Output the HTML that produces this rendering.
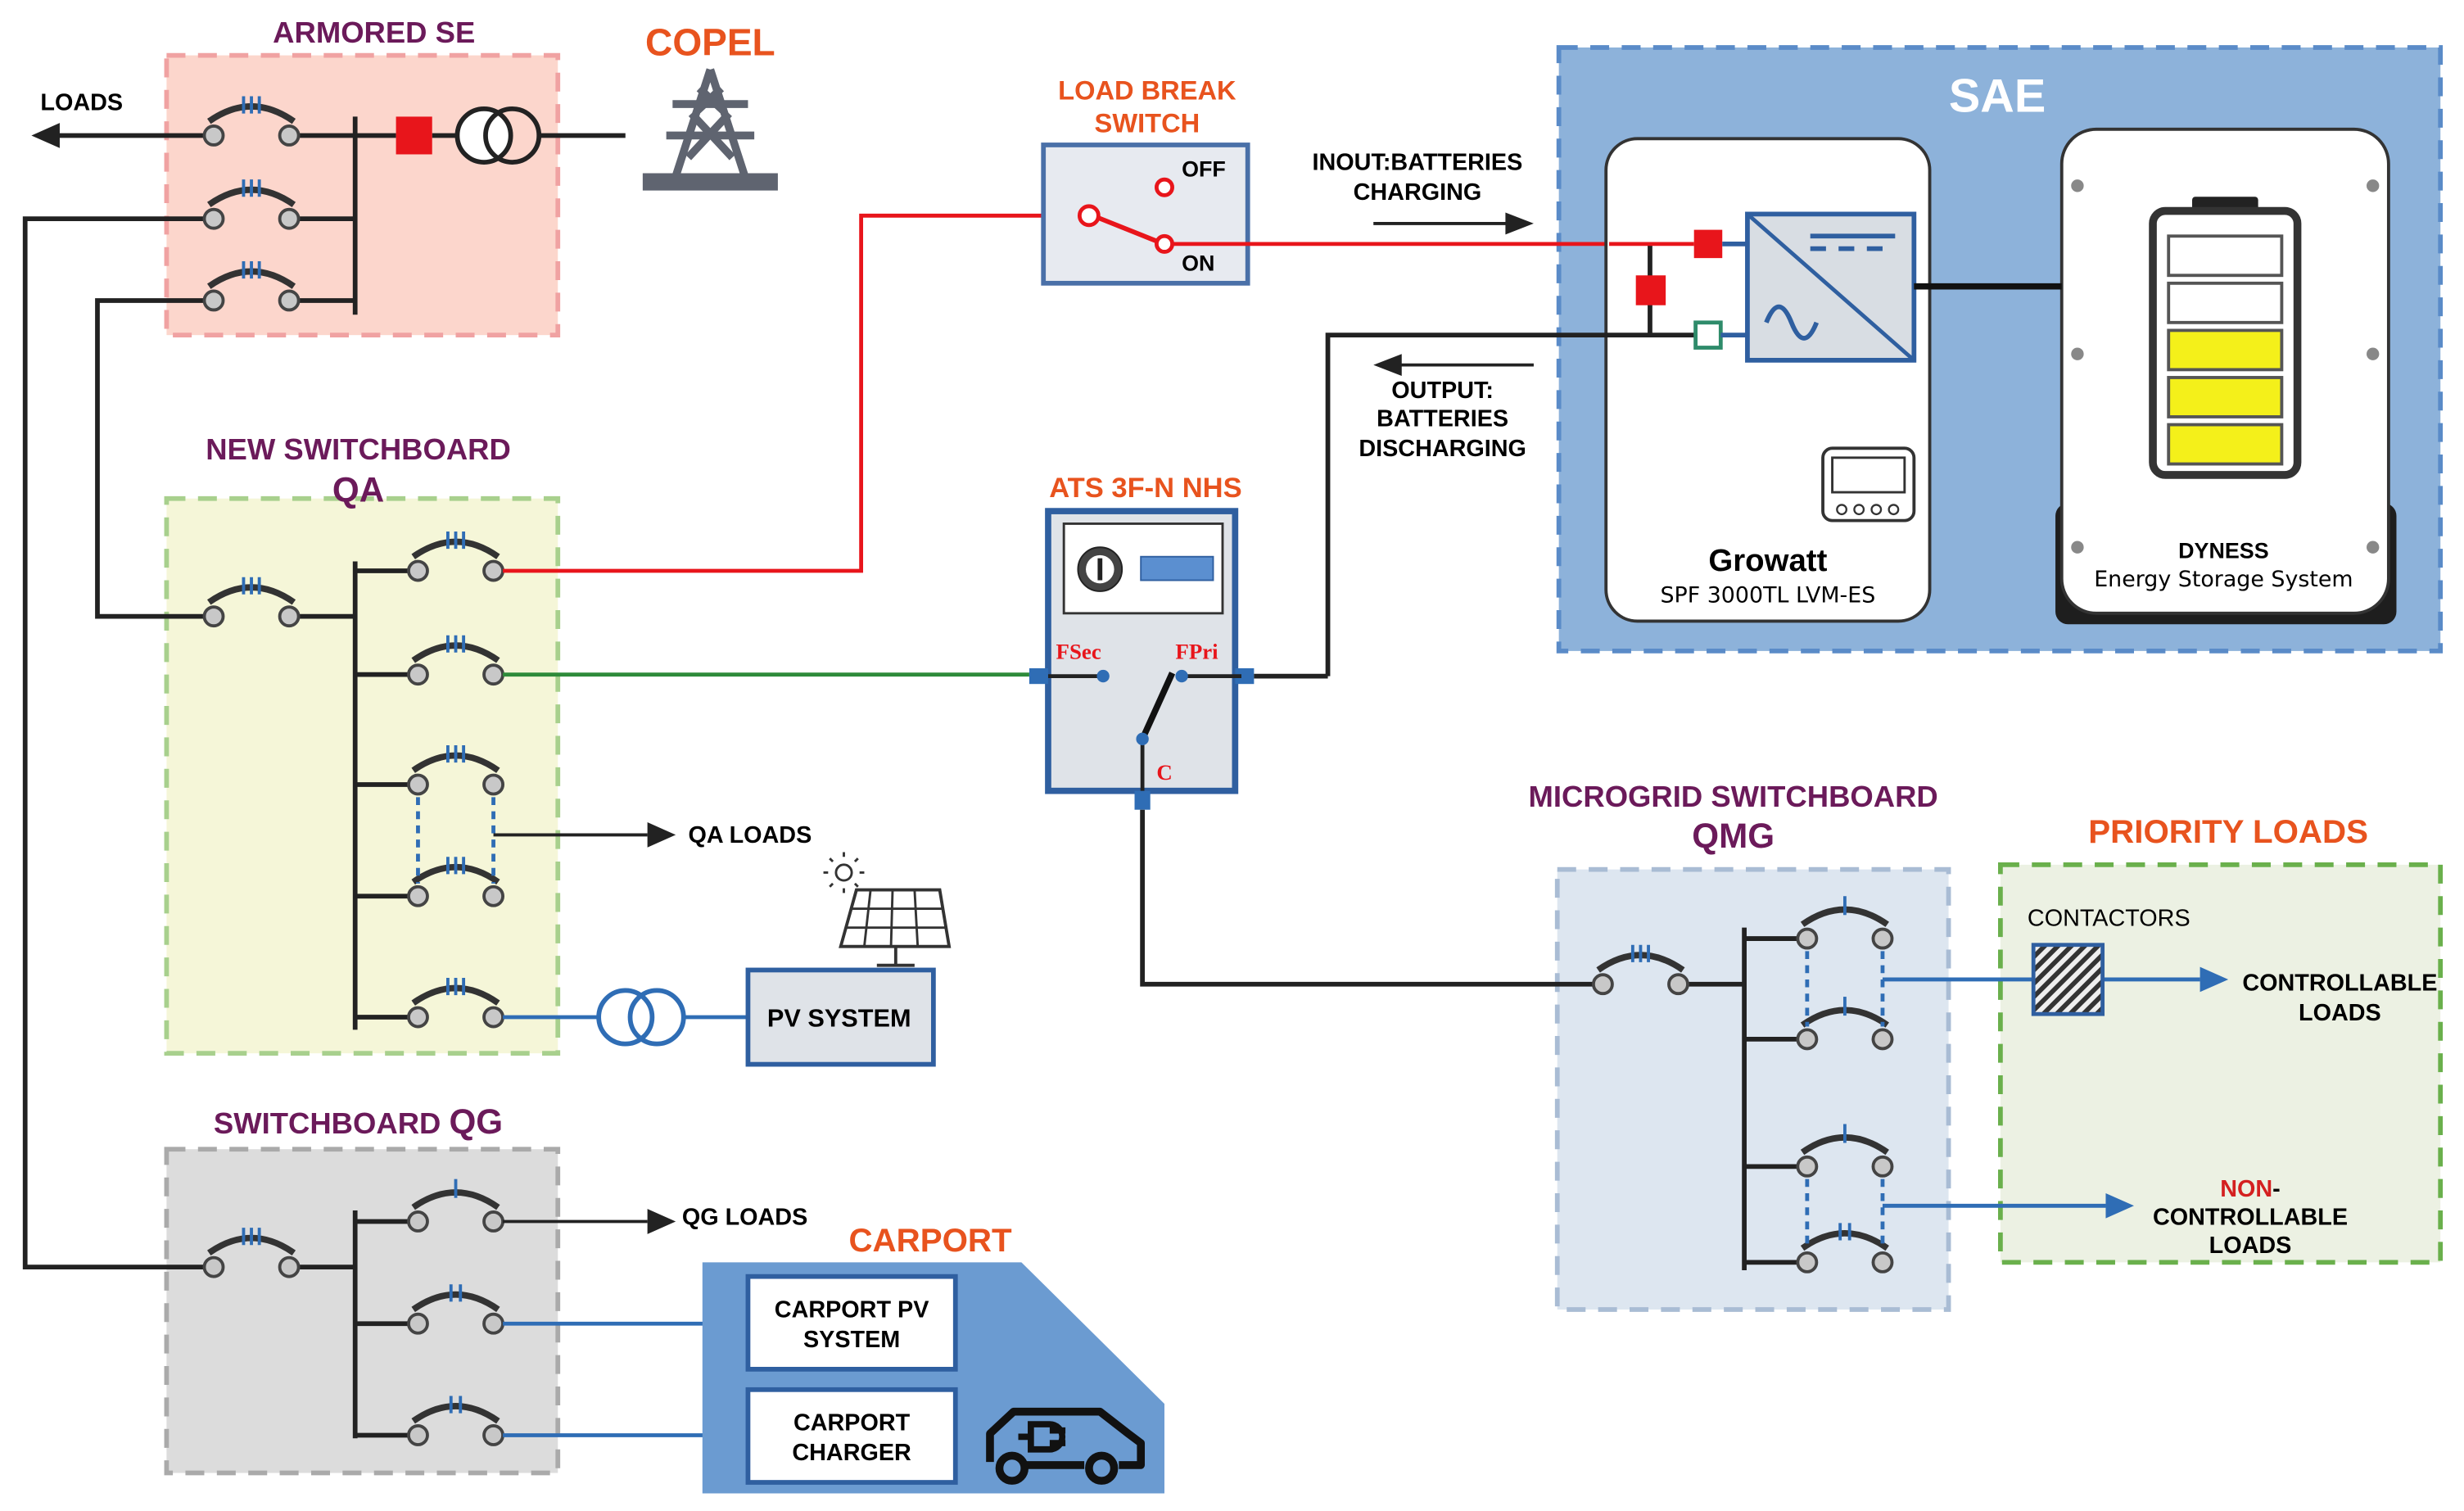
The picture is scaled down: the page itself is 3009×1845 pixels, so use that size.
<!DOCTYPE html>
<html><head><meta charset="utf-8"><style>html,body{margin:0;padding:0;background:#fff}svg{display:block}text{font-family:"Liberation Sans",sans-serif;font-weight:bold}</style></head><body>
<svg width="3009" height="1845" viewBox="0 0 1568 961" xmlns="http://www.w3.org/2000/svg">
<defs>
<g id="b3"><path d="M-3,-9 Q24,-28 51,-9" fill="none" stroke="#333" stroke-width="4"/><path d="M19,-25v11M24,-25v11M29,-25v11" stroke="#2f6db5" stroke-width="2"/><circle cx="0" cy="0" r="6" fill="#c8c8c8" stroke="#444" stroke-width="2"/><circle cx="48" cy="0" r="6" fill="#c8c8c8" stroke="#444" stroke-width="2"/></g>
<g id="b2"><path d="M-3,-9 Q24,-28 51,-9" fill="none" stroke="#333" stroke-width="4"/><path d="M21,-25v11M27,-25v11" stroke="#2f6db5" stroke-width="2"/><circle cx="0" cy="0" r="6" fill="#c8c8c8" stroke="#444" stroke-width="2"/><circle cx="48" cy="0" r="6" fill="#c8c8c8" stroke="#444" stroke-width="2"/></g>
<g id="b1"><path d="M-3,-9 Q24,-28 51,-9" fill="none" stroke="#333" stroke-width="4"/><path d="M24,-27v12" stroke="#2f6db5" stroke-width="2"/><circle cx="0" cy="0" r="6" fill="#c8c8c8" stroke="#444" stroke-width="2"/><circle cx="48" cy="0" r="6" fill="#c8c8c8" stroke="#444" stroke-width="2"/></g>
<pattern id="hatch" width="6" height="6" patternUnits="userSpaceOnUse" patternTransform="rotate(45)"><rect width="6" height="6" fill="#eee"/><rect width="3" height="6" fill="#333"/></pattern>
</defs>

<!-- boxes -->
<rect x="106" y="35" width="249" height="178" fill="#fcd6cc" stroke="#f0a2a2" stroke-width="3" stroke-dasharray="12,8"/>
<rect x="106" y="317" width="249" height="353" fill="#f5f6d8" stroke="#a8d08d" stroke-width="3" stroke-dasharray="12,8"/>
<rect x="106" y="731" width="249" height="206" fill="#dcdcdc" stroke="#aaa" stroke-width="3" stroke-dasharray="12,8"/>
<rect x="991" y="553" width="249" height="280" fill="#dde6f0" stroke="#a9bcd4" stroke-width="3" stroke-dasharray="12,8"/>
<rect x="1273" y="550" width="280" height="253" fill="#ecf1e3" stroke="#6ab04c" stroke-width="3" stroke-dasharray="12,8"/>
<rect x="992" y="30" width="561" height="384" fill="#8db2da" stroke="#5a8bc8" stroke-width="3" stroke-dasharray="12,8"/>

<!-- titles -->
<g text-anchor="middle">
<text x="238" y="27" font-size="19" fill="#6b1a5a">ARMORED SE</text>
<text x="452" y="35" font-size="24" fill="#e8531e">COPEL</text>
<text x="228" y="292" font-size="19" fill="#6b1a5a">NEW SWITCHBOARD</text>
<text x="228" y="319" font-size="22" fill="#6b1a5a">QA</text>
<text x="228" y="721" font-size="19" fill="#6b1a5a">SWITCHBOARD <tspan font-size="22">QG</tspan></text>
<text x="730" y="63" font-size="17" fill="#e8531e">LOAD BREAK</text>
<text x="730" y="84" font-size="17" fill="#e8531e">SWITCH</text>
<text x="729" y="316" font-size="18" fill="#e8531e">ATS 3F-N NHS</text>
<text x="1103" y="513" font-size="19" fill="#6b1a5a">MICROGRID SWITCHBOARD</text>
<text x="1103" y="539" font-size="22" fill="#6b1a5a">QMG</text>
<text x="1418" y="536" font-size="21" fill="#e8531e">PRIORITY LOADS</text>
<text x="592" y="796" font-size="21" fill="#e8531e">CARPORT</text>
<text x="1271" y="71" font-size="30" fill="#fff">SAE</text>
</g>

<!-- Armored SE -->
<g stroke="#222" stroke-width="3" fill="none">
<path d="M226,74V200"/>
<path d="M130,86H30"/><path d="M184,86H252M275,86H291M343,86H398"/>
<path d="M184,139H226M184,191H226"/>
<path d="M130,139H16V806H130"/>
<path d="M130,191H62V392H130"/>
</g>
<path d="M20,86l18,-8v16z" fill="#222"/>
<text x="52" y="70" font-size="15" text-anchor="middle">LOADS</text>
<use href="#b3" x="136" y="86"/><use href="#b3" x="136" y="139"/><use href="#b3" x="136" y="191"/>
<rect x="252" y="74" width="23" height="24" fill="#e8151b"/>
<circle cx="308" cy="86" r="17" fill="#fff" stroke="#222" stroke-width="3"/><circle cx="326" cy="86" r="17" fill="none" stroke="#222" stroke-width="3"/>
<!-- tower -->
<g fill="none" stroke="#5f6470" stroke-width="5">
<path d="M452,44L430,112M452,44L474,112"/><path d="M428,66H476M424,86H480"/><path d="M440,72L466,100M464,72L438,100M445,56L460,70M459,56L444,70"/>
</g>
<rect x="409" y="110" width="86" height="11" fill="#5f6470"/>

<!-- QA -->
<g stroke="#222" stroke-width="3" fill="none">
<path d="M184,392H226M226,357V655"/>
<path d="M226,363H260M226,429H260M226,499H260M226,570H260M226,647H260"/>
</g>
<use href="#b3" x="136" y="392"/>
<use href="#b3" x="266" y="363"/><use href="#b3" x="266" y="429"/><use href="#b3" x="266" y="499"/><use href="#b3" x="266" y="570"/><use href="#b3" x="266" y="647"/>
<path d="M266,507V562M314,507V562" stroke="#2f6db5" stroke-width="2.5" stroke-dasharray="5,4"/>
<path d="M314,531H412" stroke="#222" stroke-width="2"/><path d="M430,531l-18,-8v16z" fill="#222"/>
<text x="438" y="536" font-size="15">QA LOADS</text>
<path d="M320,363H548V137H688" stroke="#e8151b" stroke-width="2.5" fill="none"/>
<path d="M320,429H655" stroke="#2e8b3a" stroke-width="2.5"/>
<path d="M320,647H380M435,647H476" stroke="#2f6db5" stroke-width="2.5"/>
<circle cx="398" cy="647" r="17" fill="#fff" stroke="#2f6db5" stroke-width="3"/><circle cx="418" cy="647" r="17" fill="none" stroke="#2f6db5" stroke-width="3"/>
<rect x="476" y="617" width="118" height="60" fill="#dfe3e8" stroke="#2f5fa0" stroke-width="3"/>
<text x="534" y="653" font-size="16" text-anchor="middle">PV SYSTEM</text>
<!-- solar panel -->
<path d="M545,566H598L604,602H535Z" fill="#fff" stroke="#333" stroke-width="2"/>
<path d="M554,566L550,602M568,566L567,602M582,566L584,602M541,578H600M539,590H602" stroke="#333" stroke-width="1.5"/>
<path d="M570,602V614M558,614H582" stroke="#333" stroke-width="2"/>
<circle cx="537" cy="555" r="5" fill="none" stroke="#333" stroke-width="1.5"/>
<path d="M537,545v-3M537,565v3M527,555h-3M547,555h3M530,548l-2,-2M544,548l2,-2M530,562l-2,2M544,562l2,2" stroke="#333" stroke-width="1.5"/>

<!-- QG -->
<g stroke="#222" stroke-width="3" fill="none">
<path d="M184,806H226M226,770V915"/>
<path d="M226,777H260M226,842H260M226,913H260"/>
</g>
<use href="#b3" x="136" y="806"/><use href="#b1" x="266" y="777"/><use href="#b2" x="266" y="842"/><use href="#b2" x="266" y="913"/>
<path d="M320,777H412" stroke="#222" stroke-width="2"/><path d="M430,777l-18,-8v16z" fill="#222"/>
<text x="434" y="779" font-size="15">QG LOADS</text>
<path d="M320,842H476M320,913H476" stroke="#2f6db5" stroke-width="2.5"/>
<path d="M447,803H650L741,893V950H447Z" fill="#6b9bd1"/>
<rect x="476" y="812" width="132" height="59" fill="#fff" stroke="#2f5fa0" stroke-width="3"/>
<rect x="476" y="884" width="132" height="59" fill="#fff" stroke="#2f5fa0" stroke-width="3"/>
<g font-size="15" text-anchor="middle"><text x="542" y="838">CARPORT PV</text><text x="542" y="857">SYSTEM</text><text x="542" y="910">CARPORT</text><text x="542" y="929">CHARGER</text></g>
<path d="M630,930V912L645,898H700L718,912L726,918V932H712M690,932H653" fill="none" stroke="#111" stroke-width="5" stroke-linejoin="round"/>
<circle cx="644" cy="934" r="8" fill="none" stroke="#111" stroke-width="5"/><circle cx="701" cy="934" r="8" fill="none" stroke="#111" stroke-width="5"/>
<path d="M656,906h12a8,8 0 0 1 0,16h-12zM668,910h10M668,918h10M656,914h-8" fill="none" stroke="#111" stroke-width="4"/>

<!-- Load break switch -->
<rect x="664" y="92" width="130" height="88" fill="#e7eaf0" stroke="#4a70a8" stroke-width="3"/>
<circle cx="693" cy="137" r="6" fill="#fff" stroke="#e8151b" stroke-width="2.5"/>
<path d="M698,138L738,154" stroke="#e8151b" stroke-width="3"/>
<circle cx="741" cy="119" r="5" fill="#fff" stroke="#e8151b" stroke-width="2.5"/>
<circle cx="741" cy="155" r="5" fill="#fff" stroke="#e8151b" stroke-width="2.5"/>
<text x="752" y="112" font-size="14">OFF</text><text x="752" y="172" font-size="14">ON</text>
<path d="M746,155H1078" stroke="#e8151b" stroke-width="2.5"/>
<g font-size="15" text-anchor="middle"><text x="902" y="108">INOUT:BATTERIES</text><text x="902" y="127">CHARGING</text>
<text x="918" y="253">OUTPUT:</text><text x="918" y="271">BATTERIES</text><text x="918" y="290">DISCHARGING</text></g>
<path d="M874,142H960" stroke="#222" stroke-width="2"/><path d="M976,142l-18,-7v14z" fill="#222"/>
<path d="M890,232H976" stroke="#222" stroke-width="2"/><path d="M874,232l18,-7v14z" fill="#222"/>

<!-- SAE contents -->
<rect x="1022" y="88" width="206" height="307" rx="20" fill="#fff" stroke="#333" stroke-width="2"/>
<rect x="1308" y="320" width="217" height="77" rx="8" fill="#1e1e1e"/>
<rect x="1312" y="82" width="208" height="308" rx="22" fill="#fff" stroke="#333" stroke-width="2"/>
<path d="M845,430V213H1078M1050,155V213" stroke="#222" stroke-width="3" fill="none"/>
<path d="M1024,155H1078" stroke="#e8151b" stroke-width="2.5"/>
<rect x="1078" y="146" width="18" height="18" fill="#e8151b"/>
<rect x="1041" y="175" width="19" height="19" fill="#e8151b"/>
<rect x="1079" y="205" width="16" height="16" fill="#fff" stroke="#2e8b6a" stroke-width="2.5"/>
<path d="M1096,155H1112M1095,213H1112" stroke="#2f5fa0" stroke-width="3"/>
<rect x="1112" y="136" width="106" height="93" fill="#d8dde3" stroke="#2f5fa0" stroke-width="3"/>
<path d="M1112,136L1218,229" stroke="#2f5fa0" stroke-width="2.5"/>
<path d="M1152,150H1206M1152,158H1162M1170,158H1180M1188,158H1198" stroke="#2f5fa0" stroke-width="3"/>
<path d="M1124,205q8,-20 16,0t16,0" fill="none" stroke="#2f5fa0" stroke-width="3"/>
<path d="M1218,182H1312" stroke="#111" stroke-width="4"/>
<rect x="1160" y="285" width="58" height="46" rx="6" fill="#fff" stroke="#333" stroke-width="2"/>
<rect x="1166" y="291" width="46" height="22" fill="#fff" stroke="#333" stroke-width="1.5"/>
<g fill="#fff" stroke="#333" stroke-width="1.2"><circle cx="1172" cy="324" r="3"/><circle cx="1183" cy="324" r="3"/><circle cx="1194" cy="324" r="3"/><circle cx="1205" cy="324" r="3"/></g>
<text x="1125" y="363" font-size="20" text-anchor="middle">Growatt</text>
<text x="1125" y="383" font-size="14" font-weight="normal" text-anchor="middle" style="font-weight:normal;font-family:'DejaVu Sans',sans-serif">SPF 3000TL LVM-ES</text>
<rect x="1395" y="125" width="42" height="12" rx="2" fill="#222"/>
<rect x="1370" y="134" width="92" height="168" rx="8" fill="#fff" stroke="#333" stroke-width="5"/>
<g stroke="#555" stroke-width="2"><rect x="1380" y="150" width="72" height="25" fill="#fff"/><rect x="1380" y="180" width="72" height="25" fill="#fff"/><rect x="1380" y="210" width="72" height="25" fill="#f4f01a"/><rect x="1380" y="240" width="72" height="25" fill="#f4f01a"/><rect x="1380" y="270" width="72" height="25" fill="#f4f01a"/></g>
<g fill="#888"><circle cx="1322" cy="118" r="4"/><circle cx="1510" cy="118" r="4"/><circle cx="1322" cy="225" r="4"/><circle cx="1510" cy="225" r="4"/><circle cx="1322" cy="348" r="4"/><circle cx="1510" cy="348" r="4"/></g>
<text x="1415" y="355" font-size="14" text-anchor="middle">DYNESS</text>
<text x="1415" y="373" font-size="14" text-anchor="middle" style="font-weight:normal;font-family:'DejaVu Sans',sans-serif">Energy Storage System</text>

<!-- ATS -->
<rect x="667" y="325" width="119" height="178" fill="#dfe3e8" stroke="#2f5fa0" stroke-width="4"/>
<rect x="677" y="333" width="101" height="57" fill="#fff" stroke="#333" stroke-width="1.5"/>
<circle cx="700" cy="362" r="14" fill="#444" stroke="#222"/><circle cx="700" cy="362" r="9" fill="#fff"/><path d="M700,355v14" stroke="#222" stroke-width="3"/>
<rect x="726" y="354" width="46" height="15" fill="#5b8fd0" stroke="#2f5fa0"/>
<rect x="655" y="425" width="12" height="10" fill="#2f6db5"/><rect x="786" y="425" width="12" height="10" fill="#2f6db5"/><rect x="722" y="503" width="10" height="12" fill="#2f6db5"/>
<path d="M667,430H702M752,430H790M727,470V503" stroke="#222" stroke-width="2.5"/>
<path d="M798,430H845" stroke="#222" stroke-width="3"/>
<path d="M727,470L746,428" stroke="#111" stroke-width="4"/>
<circle cx="702" cy="430" r="4" fill="#2f6db5"/><circle cx="752" cy="430" r="4" fill="#2f6db5"/><circle cx="727" cy="470" r="4" fill="#2f6db5"/>
<g font-family="Liberation Serif,serif" fill="#e8151b" font-size="14"><text x="672" y="419" style="font-family:'Liberation Serif',serif">FSec</text><text x="748" y="419" style="font-family:'Liberation Serif',serif">FPri</text><text x="736" y="496" style="font-family:'Liberation Serif',serif">C</text></g>
<path d="M727,515V626H1014" stroke="#222" stroke-width="3" fill="none"/>

<!-- QMG -->
<g stroke="#222" stroke-width="3" fill="none">
<path d="M1068,626H1110M1110,590V808"/>
<path d="M1110,597H1144M1110,661H1144M1110,742H1144M1110,803H1144"/>
</g>
<use href="#b3" x="1020" y="626"/><use href="#b1" x="1150" y="597"/><use href="#b1" x="1150" y="661"/><use href="#b1" x="1150" y="742"/><use href="#b2" x="1150" y="803"/>
<path d="M1150,605V653M1198,605V653M1150,750V795M1198,750V795" stroke="#2f6db5" stroke-width="2.5" stroke-dasharray="5,4"/>
<path d="M1198,623H1400M1198,767H1340" stroke="#2f6db5" stroke-width="2.5"/>
<path d="M1418,623l-18,-8v16z" fill="#2f6db5"/><path d="M1358,767l-18,-8v16z" fill="#2f6db5"/>
<rect x="1294" y="601" width="44" height="44" fill="url(#hatch)" stroke="#2f5fa0" stroke-width="2.5"/>
<text x="1342" y="589" font-size="15" text-anchor="middle" style="font-weight:normal">CONTACTORS</text>
<g font-size="15" text-anchor="middle"><text x="1489" y="630">CONTROLLABLE</text><text x="1489" y="649">LOADS</text>
<text x="1432" y="761"><tspan fill="#d42020">NON</tspan>-</text><text x="1432" y="779">CONTROLLABLE</text><text x="1432" y="797">LOADS</text></g>
</svg>
</body></html>
